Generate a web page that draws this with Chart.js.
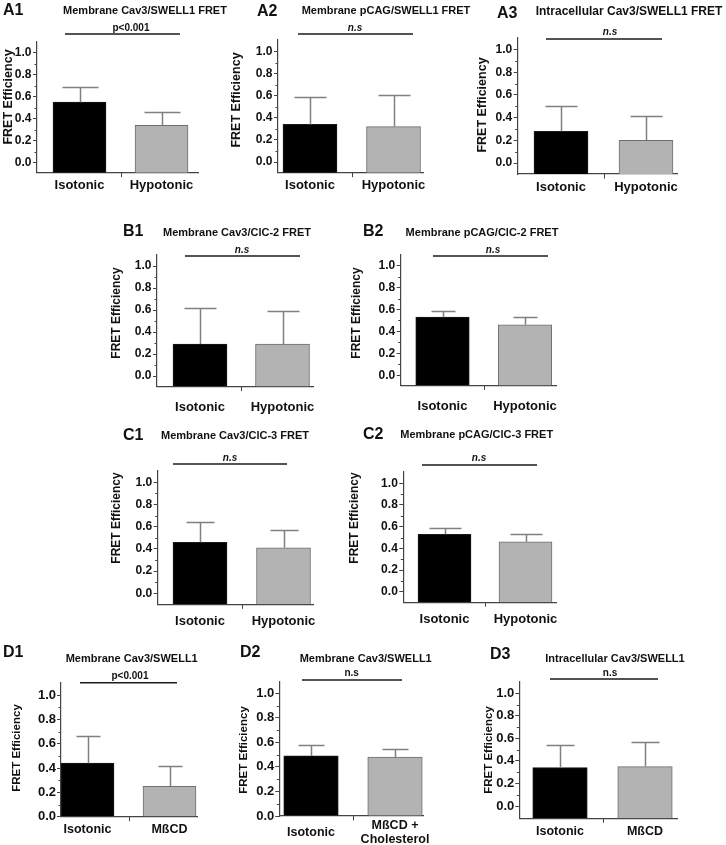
<!DOCTYPE html>
<html>
<head>
<meta charset="utf-8">
<script src="https://cdn.jsdelivr.net/npm/chart.js@4.4.1/dist/chart.umd.min.js"></script>
<style>
  html, body { margin: 0; padding: 0; background: #fff; }
  body { width: 726px; height: 845px; position: relative; overflow: hidden; }
  canvas { position: absolute; }
</style>
</head>
<body>
<script>
// --- data ---
const panelIds = ['A1', 'A2', 'A3', 'B1', 'B2', 'C1', 'C2', 'D1', 'D2', 'D3'];
const panelTitles = [
  'Membrane Cav3/SWELL1 FRET', 'Membrane pCAG/SWELL1 FRET', 'Intracellular Cav3/SWELL1 FRET',
  'Membrane Cav3/ClC-2 FRET', 'Membrane pCAG/ClC-2 FRET',
  'Membrane Cav3/ClC-3 FRET', 'Membrane pCAG/ClC-3 FRET',
  'Membrane Cav3/SWELL1', 'Membrane Cav3/SWELL1', 'Intracellular Cav3/SWELL1'
];
const controlLabel = 'Isotonic';
const treatmentLabels = ['Hypotonic', 'Hypotonic', 'Hypotonic', 'Hypotonic', 'Hypotonic',
  'Hypotonic', 'Hypotonic', 'MßCD', ['MßCD +', 'Cholesterol'], 'MßCD'];
const controlMean   = [0.55, 0.34, 0.28, 0.29, 0.53, 0.46, 0.53, 0.44, 0.49, 0.34];
const controlSD     = [0.14, 0.25, 0.22, 0.33, 0.06, 0.18, 0.06, 0.22, 0.09, 0.20];
const treatmentMean = [0.34, 0.32, 0.20, 0.29, 0.46, 0.41, 0.46, 0.25, 0.48, 0.35];
const treatmentSD   = [0.12, 0.29, 0.21, 0.30, 0.07, 0.16, 0.07, 0.17, 0.07, 0.22];
const significance  = ['p<0.001', 'n.s', 'n.s', 'n.s', 'n.s', 'n.s', 'n.s', 'p<0.001', 'n.s', 'n.s'];
const yAxisTitle = 'FRET Efficiency';
const yTickValues = [0, 0.2, 0.4, 0.6, 0.8, 1.0];
const yMinorTicks = [0.1, 0.3, 0.5, 0.7, 0.9];

// --- page layout (page pixels) ---
const FONT = '"Liberation Sans", Arial, Helvetica, sans-serif';
const rowFonts = {
  A: { tick: 12, tickPad: 1.5, xl: 13, yt: 12.5 },
  B: { tick: 12, tickPad: 1.5, xl: 13, yt: 12 },
  C: { tick: 12, tickPad: 1.5, xl: 13, yt: 12 },
  D: { tick: 13, tickPad: 1, xl: 12.5, yt: 11.5 }
};
const layout = {
  A1: { box: [0, 0, 240, 200], axL: 37, axR: 198, y1: 52.7, y0: 162.7, yTop: 42, yBot: 172.7, cx: [79.5, 161.5], bw: 53, cap: 18,
        title: [145, 10.5], tfs: 11, letter: [3, 11], sig: [131, 28], sigLine: [65, 180, 34], yt: [8.5, 97], xPad: 5.5, italic: true },
  A2: { box: [225, 0, 475, 200], axL: 278, axR: 423, y1: 51.5, y0: 162, yTop: 40, yBot: 172.7, cx: [310, 393.5], bw: 54, cap: 16,
        title: [386, 10.5], tfs: 11, letter: [257, 11.5], sig: [355, 28], sigLine: [298, 413, 34], yt: [237, 100], xPad: 5.5, italic: true },
  A3: { box: [470, 0, 726, 200], axL: 517.7, axR: 677, y1: 49.5, y0: 163, yTop: 38, yBot: 174, cx: [561, 646], bw: 54, cap: 16,
        title: [629, 12], tfs: 12, letter: [497, 13.5], sig: [610, 32], sigLine: [546, 662, 39], yt: [483, 105], xPad: 5.5, italic: true },
  B1: { box: [100, 215, 335, 420], axL: 157, axR: 313, y1: 266, y0: 376, yTop: 255, yBot: 386.5, cx: [200, 282.5], bw: 54, cap: 16,
        title: [237, 233], tfs: 11, letter: [123, 232], sig: [242, 250], sigLine: [185, 300, 256], yt: [117, 313], xPad: 13.5, italic: true },
  B2: { box: [340, 215, 600, 420], axL: 400.7, axR: 556, y1: 265.7, y0: 375.2, yTop: 255, yBot: 385.5, cx: [442.5, 525], bw: 53.5, cap: 12,
        title: [482, 233], tfs: 11, letter: [363, 232], sig: [493, 250], sigLine: [433, 548, 256], yt: [357, 313], xPad: 13.5, italic: true },
  C1: { box: [100, 420, 335, 640], axL: 157.7, axR: 313, y1: 482.3, y0: 593.3, yTop: 471, yBot: 604.3, cx: [200, 283.5], bw: 54, cap: 14,
        title: [235, 436], tfs: 11, letter: [123, 436], sig: [230, 458], sigLine: [173, 287, 464], yt: [117, 518], xPad: 10, italic: true },
  C2: { box: [340, 420, 600, 640], axL: 403.3, axR: 556, y1: 483.3, y0: 591.7, yTop: 472, yBot: 602.3, cx: [444.5, 525.5], bw: 53, cap: 16,
        title: [476.7, 435], tfs: 11, letter: [363, 435], sig: [479, 458], sigLine: [422, 537, 465], yt: [355, 518], xPad: 10, italic: true },
  D1: { box: [0, 640, 240, 845], axL: 61, axR: 197, y1: 695, y0: 816.7, yTop: 682.7, yBot: 816.7, cx: [87.5, 169.5], bw: 53, cap: 12,
        title: [131.7, 659], tfs: 11, letter: [3, 653], sig: [130, 676], sigLine: [80, 177, 682.7], yt: [16.7, 748], xPad: 6, italic: false },
  D2: { box: [230, 640, 480, 845], axL: 279.3, axR: 423, y1: 693.3, y0: 816, yTop: 681.7, yBot: 816, cx: [311, 395], bw: 54.5, cap: 13,
        title: [365.7, 659], tfs: 11, letter: [240, 653], sig: [351.7, 673], sigLine: [302, 402, 680], yt: [244, 750], xPad: 9.5, italic: false, cross: 'center' },
  D3: { box: [475, 640, 726, 845], axL: 519.3, axR: 677, y1: 693.3, y0: 806, yTop: 681.7, yBot: 818.3, cx: [560, 645], bw: 54.5, cap: 14,
        title: [615, 659], tfs: 11, letter: [490, 655], sig: [610, 673], sigLine: [550, 658, 679], yt: [488.5, 750], xPad: 6, italic: false }
};

// error bars, minor ticks and panel texts
function makeDecor(i, L, F) {
  const ox = L.box[0], oy = L.box[1];
  const errs = [controlSD[i], treatmentSD[i]];
  return {
    id: 'decor' + i,
    afterDatasetsDraw(chart) {
      const ctx = chart.ctx, xs = chart.scales.x, ys = chart.scales.y;
      ctx.save();
      ctx.strokeStyle = '#808080';
      ctx.lineWidth = 1.5;
      chart.data.datasets[0].data.forEach((p, k) => {
        const px = Math.round(xs.getPixelForValue(p.x)) + 0.5;
        const yb = ys.getPixelForValue(p.y);
        const yt = Math.round(ys.getPixelForValue(p.y + errs[k])) + 0.5;
        ctx.beginPath();
        ctx.moveTo(px, yb); ctx.lineTo(px, yt);
        ctx.moveTo(px - L.cap, yt); ctx.lineTo(px + L.cap, yt);
        ctx.stroke();
      });
      ctx.restore();
    },
    afterDraw(chart) {
      const ctx = chart.ctx, xs = chart.scales.x, ys = chart.scales.y;
      ctx.save();
      ctx.strokeStyle = '#444';
      ctx.lineWidth = 1;
      ctx.beginPath();
      yMinorTicks.forEach(v => {
        const py = Math.round(ys.getPixelForValue(v)) + 0.5;
        ctx.moveTo(xs.left - 2.5, py); ctx.lineTo(xs.left, py);
      });
      const mx = Math.round(xs.getPixelForValue(0.5)) + 0.5;
      ctx.moveTo(mx, ys.bottom); ctx.lineTo(mx, ys.bottom + 4.5);
      ctx.stroke();

      ctx.fillStyle = '#111';
      ctx.textBaseline = 'middle';
      ctx.textAlign = 'left';
      ctx.font = `bold 16px ${FONT}`;
      ctx.fillText(panelIds[i], L.letter[0] - ox, L.letter[1] - oy);
      ctx.textAlign = 'center';
      ctx.font = `bold ${L.tfs}px ${FONT}`;
      ctx.fillText(panelTitles[i], L.title[0] - ox, L.title[1] - oy);
      const ital = L.italic && significance[i] === 'n.s';
      ctx.font = `${ital ? 'italic ' : ''}bold 10px ${FONT}`;
      ctx.fillText(significance[i], L.sig[0] - ox, L.sig[1] - oy);
      ctx.strokeStyle = '#1a1a1a';
      ctx.lineWidth = 1.5;
      ctx.beginPath();
      ctx.moveTo(L.sigLine[0] - ox, L.sigLine[2] - oy);
      ctx.lineTo(L.sigLine[1] - ox, L.sigLine[2] - oy);
      ctx.stroke();

      ctx.translate(L.yt[0] - ox, L.yt[1] - oy);
      ctx.rotate(-Math.PI / 2);
      ctx.font = `bold ${F.yt}px ${FONT}`;
      ctx.fillText(yAxisTitle, 0, 0);
      ctx.restore();
    }
  };
}

panelIds.forEach((id, i) => {
  const L = layout[id];
  const F = rowFonts[id[0]];
  const W = L.box[2] - L.box[0], H = L.box[3] - L.box[1];
  const cv = document.createElement('canvas');
  cv.width = W; cv.height = H;
  cv.style.left = L.box[0] + 'px'; cv.style.top = L.box[1] + 'px';
  cv.style.width = W + 'px'; cv.style.height = H + 'px';
  document.body.appendChild(cv);

  const ppu = L.y0 - L.y1;
  const yMin = -(L.yBot - L.y0) / ppu;
  const yMax = (L.y0 - L.yTop) / ppu;
  const ppx = L.cx[1] - L.cx[0];
  const xMin = -(L.cx[0] - L.axL) / ppx;
  const xMax = 1 + (L.axR - L.cx[1]) / ppx;
  const cats = [controlLabel, treatmentLabels[i]];

  new Chart(cv, {
    type: 'bar',
    data: {
      datasets: [{
        data: [{ x: 0, y: controlMean[i] }, { x: 1, y: treatmentMean[i] }],
        backgroundColor: ['#000000', '#b3b3b3'],
        borderColor: ['#1a1a1a', '#6e6e6e'],
        borderWidth: 1,
        barThickness: L.bw,
        base: yMin
      }]
    },
    options: {
      responsive: false,
      animation: false,
      events: [],
      layout: { padding: { left: 0, top: L.yTop - L.box[1], right: L.box[2] - L.axR, bottom: 0 } },
      plugins: { legend: { display: false }, tooltip: { enabled: false } },
      scales: {
        x: {
          type: 'linear',
          offset: false,
          bounds: 'data',
          grace: 0,
          min: xMin,
          max: xMax,
          afterFit: s => { s.height = L.box[3] - L.yBot; },
          afterBuildTicks: s => { s.ticks = [{ value: 0 }, { value: 1 }]; },
          ticks: {
            callback: v => cats[v],
            autoSkip: false, maxRotation: 0, minRotation: 0,
            padding: L.xPad,
            crossAlign: L.cross || 'near',
            color: '#111',
            font: { family: FONT, weight: 'bold', size: F.xl, lineHeight: 1.15 }
          },
          grid: { display: false, drawTicks: false, offset: false },
          border: { display: true, color: '#444', width: 1.2 }
        },
        y: {
          min: yMin,
          max: yMax,
          afterFit: s => { s.width = L.axL - L.box[0]; },
          afterBuildTicks: s => { s.ticks = yTickValues.map(v => ({ value: v })); },
          ticks: {
            callback: v => v.toFixed(1),
            padding: F.tickPad,
            color: '#111',
            font: { family: FONT, weight: 'bold', size: F.tick }
          },
          grid: { display: true, drawOnChartArea: false, drawTicks: true, tickLength: 4, color: '#444' },
          border: { display: true, color: '#444', width: 1.2 }
        }
      }
    },
    plugins: [makeDecor(i, L, F)]
  });
});
</script>
</body>
</html>
